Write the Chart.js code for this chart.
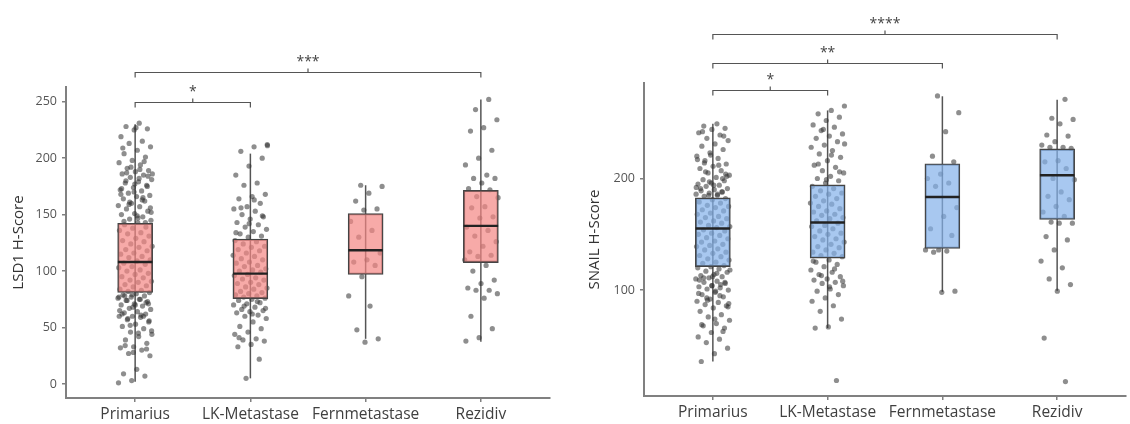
<!DOCTYPE html>
<html>
<head>
<meta charset="utf-8">
<script src="https://cdn.jsdelivr.net/npm/chart.js@4.4.0/dist/chart.umd.min.js"></script>
<style>
  body { margin: 0; background: #fff; width: 1130px; height: 424px; overflow: hidden; position: relative; }
  canvas { position: absolute; top: 0; }
  #lsd1Chart { left: 0; }
  #snailChart { left: 565px; }
</style>
</head>
<body>
<canvas id="lsd1Chart" width="565" height="424"></canvas>
<canvas id="snailChart" width="565" height="424"></canvas>
<script>
const categories = ['Primarius', 'LK-Metastase', 'Fernmetastase', 'Rezidiv'];

// LSD1 box stats (whisker low, Q1, median, Q3, whisker high)
const lsd1Low = [2, 5, 40, 37.5];
const lsd1Q1 = [81, 75.6, 97, 107.5];
const lsd1Median = [108, 97.7, 118.4, 140];
const lsd1Q3 = [142.3, 128.4, 151, 171.5];
const lsd1High = [230, 204, 176, 252];
const lsd1Ticks = [0, 50, 100, 150, 200, 250];

// LSD1 single cases
const lsd1Primarius = [231, 228, 226, 225, 219, 215, 213, 210, 207, 204, 201, 198, 196, 194, 191, 189, 188, 186, 185, 183, 181, 179, 178, 176, 174, 172, 171, 169, 167, 166, 164, 162, 160, 158, 157, 155, 153, 151, 150, 148, 146, 145, 143,
  141, 139, 138, 136, 134, 133, 131, 129, 127, 126, 124, 122, 121, 119, 118, 116, 115, 113, 112, 110, 109,
  107, 106, 104, 103, 101, 100, 98, 97, 95, 94, 92, 91, 90, 88, 87, 86, 84, 83, 82, 81,
  80, 79, 78, 77, 76, 75, 74, 73, 71, 70, 69, 67, 66, 64, 63, 62, 60, 60, 59, 57, 55, 53, 51, 49, 46, 44, 42, 39, 36, 33, 32, 30, 27, 25, 13, 9, 7, 3, 1,
  190, 187, 184, 177, 173, 165, 161, 152, 147, 78, 72, 68, 65, 61, 58, 56,
  227, 209, 197, 192, 186, 182, 180, 175, 170, 168, 163, 159, 156, 149, 144, 143, 79, 77, 75, 74, 71, 70, 62, 60, 52, 47, 45, 34, 31, 28];
const lsd1LK = [212, 210, 206, 200, 193, 185, 178, 176, 168, 166, 164, 160, 157, 155, 153, 150, 148, 146, 143, 141, 139, 137, 135, 133, 131, 130,
  127, 126, 124, 122, 121, 119, 118, 116, 114, 113, 111, 110, 108, 107, 105, 104, 102, 101, 100, 99,
  97, 96, 94, 93, 92, 90, 89, 88, 86, 85, 84, 82, 81, 80, 79, 78, 77, 76,
  75, 74, 72, 71, 70, 68, 66, 65, 64, 63, 61, 60, 58, 55, 51, 49, 46, 44, 40, 39, 38, 35, 33, 22, 5,
  211, 163, 156, 149, 142, 134, 73, 69, 67, 62, 41];
const lsd1Fern = [176, 175, 169, 162, 155, 154, 144, 136, 130, 116, 110, 108, 105, 95, 78, 69, 48, 40, 37];
const lsd1Rezidiv = [252, 243, 234, 227, 224, 207, 200, 194, 185, 182, 182, 178, 173, 172, 166, 165, 157, 156, 148, 147, 139, 136, 131, 126, 122,
  117, 114, 113, 110, 105, 100, 92, 89, 85, 83, 83, 80, 76, 60, 49, 41, 38];

// SNAIL box stats
const snailLow = [36, 66, 98.5, 99.4];
const snailQ1 = [121, 128.6, 137.3, 163.3];
const snailMedian = [155.2, 160.6, 183.5, 202.9];
const snailQ3 = [182.7, 194.3, 213.2, 226.5];
const snailHigh = [249, 261, 273.7, 270.7];
const snailTicks = [100, 200];

const snailPrimarius = [249, 247, 245, 244, 241, 239, 236, 234, 231, 229, 226, 223, 220, 218, 216, 213, 211, 209, 207, 205, 203, 201, 199, 198, 196, 195, 194, 193, 191, 190, 189, 188, 187, 186, 185, 184,
  182, 181, 179, 178, 176, 175, 174, 172, 171, 169, 168, 166, 165, 164, 162, 161, 160, 158, 157, 156,
  154, 153, 151, 150, 149, 147, 146, 144, 143, 141, 140, 139, 137, 136, 134, 133, 131, 130, 128, 127, 125, 124, 122, 121,
  120, 119, 117, 116, 114, 113, 112, 111, 110, 108, 107, 106, 104, 103, 102, 101, 100, 98, 96, 94, 92, 90, 89, 87, 86, 84, 81, 78, 76, 73, 70, 68, 66, 62, 58, 56, 53, 48, 43, 36,
  200, 197, 192, 186, 214, 204, 112, 109, 105, 91, 88, 99,
  242, 238, 221, 217, 212, 206, 202, 194, 191, 188, 185, 118, 115, 111, 107, 104, 97, 95, 93, 85, 74, 69, 63];
const snailLK = [265, 261, 258, 255, 252, 248, 246, 243, 240, 238, 236, 233, 230, 228, 225, 222, 219, 216, 212, 210, 207, 205, 202, 200, 198, 196,
  193, 191, 189, 187, 186, 184, 182, 180, 178, 177, 175, 173, 171, 170, 168, 167, 165, 164, 162,
  160, 158, 157, 155, 153, 151, 150, 148, 146, 145, 143, 141, 139, 138, 136, 134, 133, 131, 130,
  127, 125, 123, 121, 118, 116, 114, 112, 110, 109, 107, 106, 104, 101, 99, 96, 93, 90, 86, 81, 74, 67, 66, 19,
  244, 231, 221, 213, 206, 199, 126, 119, 113, 108, 103];
const snailFern = [274, 259, 242, 220, 215, 204, 200, 196, 193, 174, 166, 155, 149, 136, 136, 135, 134, 99, 98];
const snailRezidiv = [271, 254, 253, 249, 239, 238, 233, 230, 228, 228, 227, 216, 215, 209, 200, 199, 188, 184, 181, 175, 170, 166, 161, 160, 160,
  148, 145, 136, 126, 120, 110, 105, 99, 57, 18];

// significance brackets
const lsd1Pairs = [[0, 1], [0, 3]];
const lsd1Stars = ['*', '***'];
const lsd1Levels = [250, 276];
const snailPairs = [[0, 1], [0, 2], [0, 3]];
const snailStars = ['*', '**', '****'];
const snailLevels = [279.7, 303.8, 329.2];

const FONT = '"Open Sans", "Noto Sans", sans-serif';

function jitter(g, i) {
  const f = ((i + 1) * 0.6180339 + g * 0.37) % 1;
  return (f - 0.5) * 0.3;
}

const bracketPlugin = {
  id: 'brackets',
  afterDraw(chart, args, opts) {
    const { ctx } = chart;
    const x = chart.scales.x, y = chart.scales.y;
    ctx.save();
    ctx.strokeStyle = '#555';
    ctx.lineWidth = 1.2;
    ctx.fillStyle = '#444';
    ctx.font = '14px ' + FONT;
    ctx.textAlign = 'center';
    ctx.textBaseline = 'alphabetic';
    opts.pairs.forEach((p, k) => {
      const x1 = x.getPixelForValue(p[0]);
      const x2 = x.getPixelForValue(p[1]);
      const yy = Math.round(y.getPixelForValue(opts.levels[k])) + 0.5;
      const xm = (x1 + x2) / 2;
      ctx.beginPath();
      ctx.moveTo(x1, yy + 5);
      ctx.lineTo(x1, yy);
      ctx.lineTo(x2, yy);
      ctx.lineTo(x2, yy + 5);
      ctx.moveTo(xm, yy);
      ctx.lineTo(xm, yy - 4);
      ctx.stroke();
      ctx.fillText(opts.labels[k], xm, yy - 7);
    });
    ctx.restore();
  }
};

function makeChart(id, cfg) {
  const datasets = [];
  cfg.groups.forEach((vals, g) => {
    datasets.push({
      type: 'line',
      data: [{ x: g, y: cfg.low[g] }, { x: g, y: cfg.high[g] }],
      borderColor: '#555',
      borderWidth: 1.5,
      pointRadius: 0,
      fill: false,
      order: 5
    });
    datasets.push({
      type: 'scatter',
      data: vals.map((v, i) => ({ x: g + jitter(g, i), y: v })),
      pointRadius: 2.6,
      pointBackgroundColor: 'rgba(50,50,50,0.55)',
      pointBorderWidth: 0,
      order: 4
    });
    datasets.push({
      type: 'line',
      data: [{ x: g - 0.15, y: cfg.median[g] }, { x: g + 0.15, y: cfg.median[g] }],
      borderColor: '#222',
      borderWidth: 2.4,
      pointRadius: 0,
      fill: false,
      order: 1
    });
  });
  datasets.push({
    type: 'bar',
    data: cfg.groups.map((_, g) => ({ x: g, y: [cfg.q1[g], cfg.q3[g]] })),
    backgroundColor: cfg.fill,
    borderColor: '#444',
    borderWidth: 1.4,
    borderSkipped: false,
    barThickness: 35,
    order: 2
  });

  return new Chart(document.getElementById(id), {
    type: 'scatter',
    data: { datasets },
    plugins: [bracketPlugin],
    options: {
      responsive: false,
      animation: false,
      layout: { padding: cfg.padding },
      plugins: {
        legend: { display: false },
        tooltip: { enabled: false },
        brackets: { pairs: cfg.pairs, labels: cfg.stars, levels: cfg.levels }
      },
      scales: {
        x: {
          type: 'linear',
          offset: false,
          min: -0.6,
          max: 3.6,
          afterBuildTicks: s => { s.ticks = categories.map((c, i) => ({ value: i })); },
          afterFit: s => { s.height = cfg.xHeight; },
          ticks: {
            autoSkip: false,
            maxRotation: 0,
            padding: 3,
            color: '#404040',
            font: { family: FONT, size: 15.5 },
            callback: v => categories[v]
          },
          grid: { offset: false, drawOnChartArea: false, drawTicks: true, tickLength: 4, color: '#808080', lineWidth: 1.5 },
          border: { display: true, color: '#808080', width: 2 }
        },
        y: {
          min: cfg.yMin,
          max: cfg.yMax,
          afterBuildTicks: s => { s.ticks = cfg.ticks.map(v => ({ value: v })); },
          afterFit: s => { s.width = cfg.yWidth; },
          ticks: {
            padding: 5,
            color: '#555',
            font: { family: FONT, size: 12.5 }
          },
          title: {
            display: true,
            text: cfg.title,
            color: '#333',
            font: { family: FONT, size: 15 },
            padding: { top: cfg.titlePad, bottom: 0 }
          },
          grid: { drawOnChartArea: false, drawTicks: true, tickLength: 4, color: '#808080', lineWidth: 1.5 },
          border: { display: true, color: '#808080', width: 2 }
        }
      }
    }
  });
}

makeChart('lsd1Chart', {
  groups: [lsd1Primarius, lsd1LK, lsd1Fern, lsd1Rezidiv],
  low: lsd1Low, q1: lsd1Q1, median: lsd1Median, q3: lsd1Q3, high: lsd1High,
  ticks: lsd1Ticks, yMin: -12.4, yMax: 263,
  fill: 'rgba(243,134,131,0.7)',
  title: 'LSD1 H-Score', titlePad: 10,
  pairs: lsd1Pairs, stars: lsd1Stars, levels: lsd1Levels,
  padding: { top: 87, right: 15, left: 0, bottom: 0 },
  yWidth: 66, xHeight: 26
});

makeChart('snailChart', {
  groups: [snailPrimarius, snailLK, snailFern, snailRezidiv],
  low: snailLow, q1: snailQ1, median: snailMedian, q3: snailQ3, high: snailHigh,
  ticks: snailTicks, yMin: 5.1, yMax: 285.6,
  fill: 'rgba(131,176,234,0.7)',
  title: 'SNAIL H-Score', titlePad: 21,
  pairs: snailPairs, stars: snailStars, levels: snailLevels,
  padding: { top: 83, right: 0, left: 0, bottom: 0 },
  yWidth: 79, xHeight: 28
});
</script>
</body>
</html>
